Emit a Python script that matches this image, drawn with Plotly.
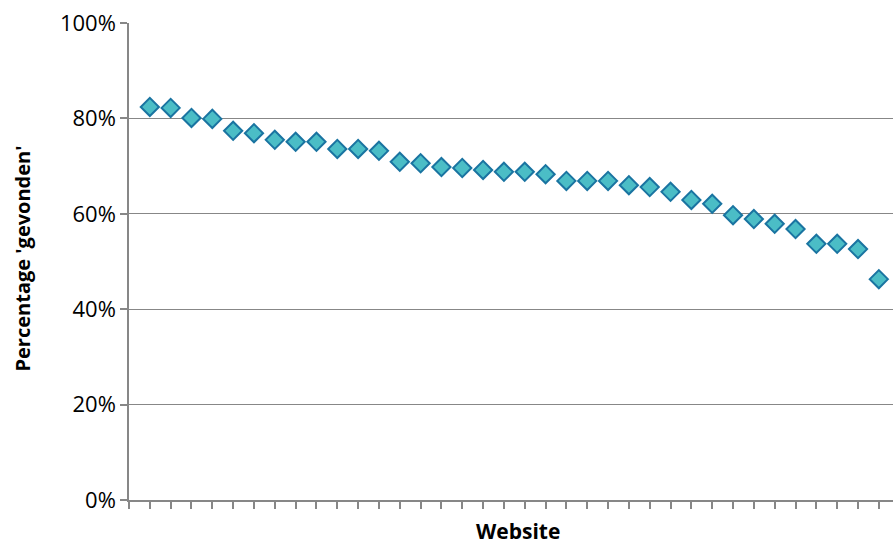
import plotly.graph_objects as go

websites = list(range(1, 37))
percent_found = [82.4, 82.2, 80.1, 79.9, 77.4, 76.9, 75.5, 75.1, 75.1, 73.6,
                 73.6, 73.2, 70.9, 70.6, 69.8, 69.6, 69.2, 68.8, 68.8, 68.3,
                 66.9, 66.9, 66.9, 66.0, 65.6, 64.6, 62.9, 62.1, 59.7, 58.9,
                 57.9, 56.8, 53.7, 53.7, 52.6, 46.3]
y_ticks = [0, 20, 40, 60, 80, 100]
y_tick_labels = ["0%", "20%", "40%", "60%", "80%", "100%"]

FONT = "Open Sans"
GRAY = "#878787"
PLOT_W = 894 - 129 - 1

fig = go.Figure()
fig.add_trace(go.Scatter(
    x=websites, y=percent_found, mode="markers",
    marker=dict(symbol="diamond", size=14, color="#4BBDC6",
                line=dict(color="#1A74A1", width=2)),
    cliponaxis=False, showlegend=False, hoverinfo="skip",
))

fig.update_layout(
    width=894, height=547,
    margin=dict(l=129, r=1, t=23, b=47),
    paper_bgcolor="white", plot_bgcolor="white",
    font=dict(family=FONT, size=22, color="black"),
    xaxis=dict(range=[0, 36.68], tick0=0, dtick=1, ticks="outside", ticklen=7,
               tickcolor=GRAY, tickwidth=1.5, showticklabels=False,
               showgrid=False, zeroline=False, showline=True,
               linecolor=GRAY, linewidth=1.5),
    yaxis=dict(range=[0, 100], tickvals=y_ticks, ticktext=y_tick_labels,
               ticks="outside", ticklen=7, tickcolor=GRAY, tickwidth=1.5,
               showgrid=True, gridcolor=GRAY, gridwidth=1.3, zeroline=False,
               showline=True, linecolor=GRAY, linewidth=1.5,
               tickfont=dict(family=FONT, size=22)),
    annotations=[
        dict(text="<b>Website</b>", xref="paper", yref="paper",
             x=(517.5 - 129) / PLOT_W, y=0, yshift=-46, yanchor="bottom",
             xanchor="center", showarrow=False, borderpad=0,
             font=dict(family=FONT, size=21, color="black")),
        dict(text="<b>Percentage 'gevonden'</b>", xref="paper", yref="paper",
             x=0, xshift=-107, y=0.5, yshift=3, xanchor="center",
             yanchor="middle", textangle=-90, showarrow=False,
             font=dict(family=FONT, size=20, color="black")),
    ],
)

fig.write_html("out.html", config={"displayModeBar": False},
               post_script="document.body.style.margin='0';")
